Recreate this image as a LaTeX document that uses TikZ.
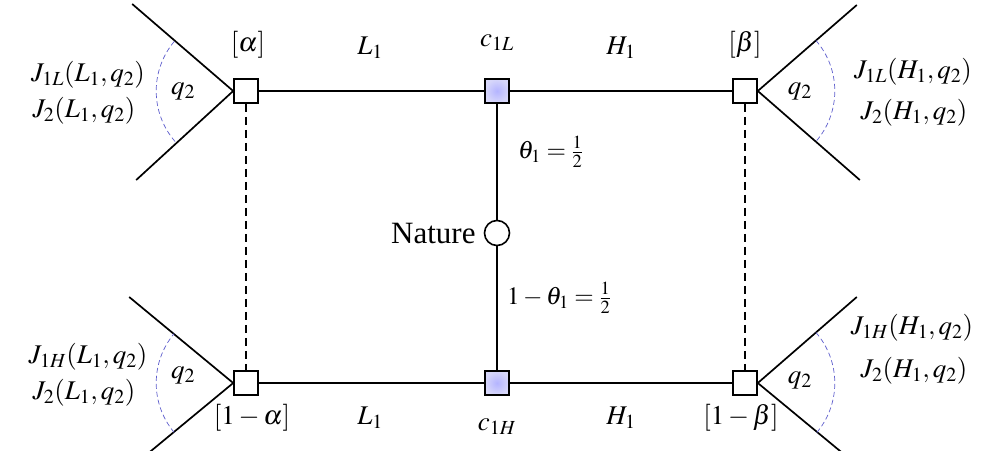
\documentclass[tikz,border=0pt]{standalone}
\usepackage{mathptmx}
\usepackage[no-math]{fontspec}
\setmainfont{Liberation Serif}
\usetikzlibrary{calc}
\begin{document}
\begin{tikzpicture}[x=1pt,y=-1pt,
  edge/.style={line width=1.7pt,black},
  dashedge/.style={line width=1.7pt,black,dash pattern=on 8pt off 5pt},
  arcd/.style={line width=0.7pt,draw={rgb,255:red,95;green,95;blue,205},dash pattern=on 5pt off 3pt},
  sq/.style={draw,line width=1.6pt,minimum size=24pt,inner sep=0pt,fill=white},
  csq/.style={draw,line width=1.6pt,minimum size=24pt,inner sep=0pt,inner color={rgb,255:red,180;green,180;blue,255},outer color={rgb,255:red,215;green,215;blue,250}},
  lbl/.style={font=\fontsize{27}{32}\selectfont,inner sep=0pt},
  tlbl/.style={font=\fontsize{31}{36}\selectfont,inner sep=0pt},
  flbl/.style={font=\fontsize{25}{30}\selectfont,inner sep=0pt}
]
\useasboundingbox (0,0) rectangle (985,450);
\clip (0,0) rectangle (985,450);
% main nodes
\node[sq] (A) at (246,91) {};
\node[csq] (C) at (497,91) {};
\node[sq] (B) at (745,91) {};
\node[sq] (D) at (246,383) {};
\node[csq] (F) at (497,383) {};
\node[sq] (E) at (745,383) {};
\node[circle,draw,line width=1.6pt,minimum size=25pt,inner sep=0pt,fill=white] (N) at (497,233) {};
% connectors
\draw[edge] (A) -- (C);
\draw[edge] (C) -- (B);
\draw[edge] (D) -- (F);
\draw[edge] (F) -- (E);
\draw[edge] (C) -- (N);
\draw[edge] (N) -- (F);
\draw[dashedge] (A) -- (D);
\draw[dashedge] (B) -- (E);
% branch ends
\coordinate (Au) at ($(A.west)+(-101,-87)$);
\coordinate (Ad) at ($(A.west)+(-97,89)$);
\coordinate (Bu) at ($(B.east)+(99,-86)$);
\coordinate (Bd) at ($(B.east)+(102,89)$);
\coordinate (Du) at ($(D.west)+(-104,-86)$);
\coordinate (Dd) at ($(D.west)+(-104,86)$);
\coordinate (Eu) at ($(E.east)+(99,-86)$);
\coordinate (Ed) at ($(E.east)+(104,86)$);
\draw[edge] (Au) -- (A.west) -- (Ad);
\draw[edge] (Bu) -- (B.east) -- (Bd);
\draw[edge] (Du) -- (D.west) -- (Dd);
\draw[edge] (Eu) -- (E.east) -- (Ed);
% arcs
\draw[arcd] ($(A.west)+(139:77)$) arc[start angle=139,end angle=221,radius=77];
\draw[arcd] ($(D.west)+(140:77)$) arc[start angle=140,end angle=220,radius=77];
\draw[arcd] ($(B.east)+(-41:77)$) arc[start angle=-41,end angle=41,radius=77];
\draw[arcd] ($(E.east)+(-41:77)$) arc[start angle=-41,end angle=41,radius=77];
% q2 labels
\node[lbl] (qA) at ($(A.west)+(-50,0)$) {$q_2$};
\node[lbl] (qD) at ($(D.west)+(-50,-8)$) {$q_2$};
\node[lbl] (qB) at ($(B.east)+(42,0)$) {$q_2$};
\node[lbl] (qE) at ($(E.east)+(42,-3)$) {$q_2$};
% payoff labels
\node[lbl] (ja1) at (88,75) {$J_{1L}(L_1,q_2)$};
\node[lbl] (ja2) at (84,111) {$J_{2}(L_1,q_2)$};
\node[lbl] (jd1) at (88,357) {$J_{1H}(L_1,q_2)$};
\node[lbl] (jd2) at (84,393) {$J_{2}(L_1,q_2)$};
\node[lbl] (jb1) at (913,72) {$J_{1L}(H_1,q_2)$};
\node[lbl] (jb2) at (914,113) {$J_{2}(H_1,q_2)$};
\node[lbl] (je1) at (912,328) {$J_{1H}(H_1,q_2)$};
\node[lbl] (je2) at (914,371) {$J_{2}(H_1,q_2)$};
% info-set labels
\node[lbl] (la) at (248,45) {$[\alpha]$};
\node[lbl] (lb) at (745,45) {$[\beta]$};
\node[lbl] (l1a) at (252,418) {$[1-\alpha]$};
\node[lbl] (l1b) at (741,418) {$[1-\beta]$};
% action labels
\node[lbl] (L1t) at (370,48) {$L_1$};
\node[lbl] (H1t) at (621,48) {$H_1$};
\node[lbl] (L1b) at (370,418) {$L_1$};
\node[lbl] (H1b) at (621,418) {$H_1$};
\node[lbl] (c1L) at (497,43) {$c_{1L}$};
\node[lbl] (c1H) at (497,427) {$c_{1H}$};
% nature
\node[tlbl,anchor=east] (nat) at ($(N.west)+(-8,0)$) {Nature};
\node[flbl,anchor=west] (th1) at (518,152) {$\theta_1=\frac{1}{2}$};
\node[flbl,anchor=west] (th2) at (507,298) {$1-\theta_1=\frac{1}{2}$};
\end{tikzpicture}
\end{document}
